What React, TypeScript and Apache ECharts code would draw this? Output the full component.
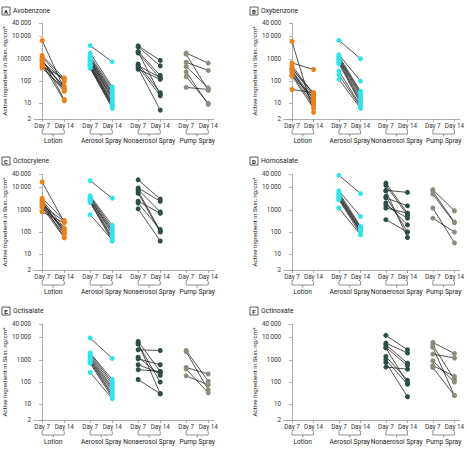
import React, { useEffect, useRef } from "react";
import * as echarts from "echarts";

const groups = ["Lotion", "Aerosol Spray", "Nonaerosol Spray", "Pump Spray"];
const dayLabels = ["Day 7", "Day 14"];
const yTicks = [2, 10, 100, 1000, 10000, 40000];
const groupColors = ["#E8821E", "#36E2EA", "#2E4D4B", "#8C8E7A"];
const panelLetters = ["A", "B", "C", "D", "E", "F"];
const panelNames = ["Avobenzone", "Oxybenzone", "Octocrylene", "Homosalate", "Octisalate", "Octinoxate"];

// Panel A – Avobenzone
const A_lotion7 = [6600, 1400, 1200, 1000, 900, 800, 700, 600, 550, 480, 420, 380];
const A_lotion14 = [45, 130, 95, 15, 40, 50, 110, 13, 60, 35, 140, 45];
const A_aero7 = [3900, 1800, 1300, 1100, 1000, 900, 800, 750, 700, 600, 550, 500, 450, 400, 380];
const A_aero14 = [730, 55, 45, 35, 30, 25, 20, 18, 15, 12, 10, 9, 8, 7, 6];
const A_nonaero7 = [3800, 3400, 2100, 1800, 2000, 580, 500, 450, 380, 340];
const A_nonaero14 = [840, 480, 180, 130, 25, 30, 140, 22, 5, 120];
const A_pump7 = [1800, 1600, 700, 450, 260, 160, 52];
const A_pump14 = [640, 38, 300, 50, 9, 10, 42];

// Panel B – Oxybenzone
const B_lotion7 = [6000, 650, 500, 400, 350, 300, 280, 250, 200, 180, 170, 42];
const B_lotion14 = [4, 330, 25, 20, 30, 15, 10, 12, 8, 18, 6, 30];
const B_aero7 = [6700, 1500, 1300, 1100, 1000, 900, 800, 700, 600, 280, 190, 120];
const B_aero14 = [1000, 100, 35, 30, 25, 20, 15, 12, 10, 8, 7, 6];
const B_nonaero7: number[] = [];
const B_nonaero14: number[] = [];
const B_pump7: number[] = [];
const B_pump14: number[] = [];

// Panel C – Octocrylene
const C_lotion7 = [17500, 3300, 2800, 2400, 2200, 2000, 1800, 1600, 1500, 1400, 1300, 800];
const C_lotion14 = [280, 330, 150, 90, 100, 120, 60, 300, 140, 80, 55, 260];
const C_aero7 = [20000, 4200, 3800, 3400, 3000, 2800, 2500, 2300, 2100, 600];
const C_aero14 = [3300, 200, 150, 120, 100, 80, 60, 50, 40, 45];
const C_nonaero7 = [22000, 9500, 8000, 7000, 5500, 2400, 2000, 1100];
const C_nonaero14 = [3000, 2400, 800, 110, 100, 700, 130, 40];
const C_pump7: number[] = [];
const C_pump14: number[] = [];

// Panel D – Homosalate
const D_lotion7: number[] = [];
const D_lotion14: number[] = [];
const D_aero7 = [35000, 7000, 6000, 5000, 4500, 4000, 3500, 3200, 2800, 1200];
const D_aero14 = [5300, 500, 180, 160, 140, 120, 110, 100, 80, 75];
const D_nonaero7 = [15700, 12400, 7400, 7000, 4000, 3400, 2000, 1600, 1200, 360];
const D_nonaero14 = [700, 570, 6000, 57, 100, 1500, 210, 420, 700, 100];
const D_pump7 = [8000, 6500, 5000, 1200, 420];
const D_pump14 = [900, 280, 260, 33, 100];

// Panel E – Octisalate
const E_lotion7: number[] = [];
const E_lotion14: number[] = [];
const E_aero7 = [9400, 2000, 1800, 1500, 1300, 1100, 1000, 900, 800, 700, 270];
const E_aero14 = [1150, 130, 100, 80, 60, 50, 40, 30, 25, 20, 18];
const E_nonaero7 = [6600, 5600, 5000, 2800, 1300, 1100, 600, 360, 130];
const E_nonaero14 = [300, 30, 100, 2600, 200, 600, 250, 300, 30];
const E_pump7 = [2600, 2300, 450, 380, 190];
const E_pump14 = [110, 45, 230, 33, 75];

// Panel F – Octinoxate
const F_lotion7: number[] = [];
const F_lotion14: number[] = [];
const F_aero7: number[] = [];
const F_aero14: number[] = [];
const F_nonaero7 = [12400, 5600, 4700, 3600, 3400, 1400, 1000, 760, 470];
const F_nonaero14 = [2800, 2000, 700, 550, 90, 120, 80, 22, 380];
const F_pump7 = [6000, 4500, 3600, 1800, 900, 550, 450];
const F_pump14 = [1900, 130, 25, 1200, 100, 180, 25];

const panelData: number[][][][] = [
  [[A_lotion7, A_lotion14], [A_aero7, A_aero14], [A_nonaero7, A_nonaero14], [A_pump7, A_pump14]],
  [[B_lotion7, B_lotion14], [B_aero7, B_aero14], [B_nonaero7, B_nonaero14], [B_pump7, B_pump14]],
  [[C_lotion7, C_lotion14], [C_aero7, C_aero14], [C_nonaero7, C_nonaero14], [C_pump7, C_pump14]],
  [[D_lotion7, D_lotion14], [D_aero7, D_aero14], [D_nonaero7, D_nonaero14], [D_pump7, D_pump14]],
  [[E_lotion7, E_lotion14], [E_aero7, E_aero14], [E_nonaero7, E_nonaero14], [E_pump7, E_pump14]],
  [[F_lotion7, F_lotion14], [F_aero7, F_aero14], [F_nonaero7, F_nonaero14], [F_pump7, F_pump14]],
];

const FONT = 'Roboto, "Liberation Sans", sans-serif';
const DAY_GAP = 0.46;
const colLeft = [34, 284];
const rowTop = [23, 174, 324];
const titleX = [2, 250];
const titleY = [11, 161, 311];
const GRID_W = 180;
const GRID_H = 96;

const xTickVals: number[] = [];
groups.forEach((_, g) => {
  xTickVals.push(g, g + DAY_GAP);
});

function fmtY(v: number): string {
  const r = Math.round(v);
  if (r >= 10000) {
    const s = String(r);
    return s.slice(0, s.length - 3) + "\u2009" + s.slice(s.length - 3);
  }
  return String(r);
}

export default function App() {
  const ref = useRef<HTMLDivElement>(null);
  useEffect(() => {
    if (!ref.current) return;
    const chart = echarts.init(ref.current, undefined, { renderer: "svg" });
    const grids: any[] = [];
    const xAxes: any[] = [];
    const yAxes: any[] = [];
    const series: any[] = [];
    const graphics: any[] = [];

    panelLetters.forEach((letter, p) => {
      const col = p % 2;
      const row = Math.floor(p / 2);
      grids.push({ left: colLeft[col], top: rowTop[row], width: GRID_W, height: GRID_H });
      xAxes.push({
        gridIndex: p,
        type: "value",
        min: -0.17,
        max: 3.58,
        splitLine: { show: false },
        axisLine: { show: true, lineStyle: { color: "#9a9a9a", width: 0.8 } },
        axisTick: { show: true, customValues: xTickVals, length: 3, lineStyle: { color: "#9a9a9a", width: 0.8 } },
        axisLabel: {
          customValues: xTickVals,
          formatter: (v: number) => (Math.abs(v - Math.round(v)) < 0.01 ? dayLabels[0] : dayLabels[1]),
          fontSize: 6.3,
          margin: 4,
          color: "#333",
          fontFamily: FONT,
        },
      });
      yAxes.push({
        gridIndex: p,
        type: "log",
        logBase: 10,
        min: 2,
        max: 40000,
        splitLine: { show: false },
        axisLine: { show: true, lineStyle: { color: "#9a9a9a", width: 0.8 } },
        axisTick: { show: true, customValues: yTicks, length: 3, lineStyle: { color: "#9a9a9a", width: 0.8 } },
        axisLabel: {
          customValues: yTicks,
          formatter: (v: number) => fmtY(v),
          fontSize: 6.3,
          margin: 3,
          color: "#333",
          fontFamily: FONT,
        },
        name: "Active Ingredient in Skin, ng/cm\u00B2",
        nameLocation: "middle",
        nameGap: 24,
        nameRotate: 90,
        nameTextStyle: { fontSize: 6.2, color: "#222", fontFamily: FONT },
      });

      panelData[p].forEach((pair, g) => {
        const [d7, d14] = pair;
        if (!d7.length) return;
        const data: any[] = [];
        d7.forEach((v, k) => {
          data.push([g, v]);
          data.push([g + DAY_GAP, d14[k]]);
          data.push([g, "-"]);
        });
        series.push({
          type: "line",
          xAxisIndex: p,
          yAxisIndex: p,
          data,
          connectNulls: false,
          showSymbol: true,
          symbol: "circle",
          symbolSize: 5,
          itemStyle: { color: groupColors[g], borderWidth: 0 },
          lineStyle: { color: "#1a1a1a", width: 0.75 },
          silent: true,
          emphasis: { disabled: true },
        });
      });

      series.push({
        type: "custom",
        xAxisIndex: p,
        yAxisIndex: p,
        clip: false,
        silent: true,
        data: groups.map((_, g) => [g, 2]),
        renderItem: (params: any, api: any) => {
          const g = api.value(0);
          const p7 = api.coord([g, 2]);
          const p14 = api.coord([g + DAY_GAP, 2]);
          const yb = p7[1];
          const xm = (p7[0] + p14[0]) / 2;
          return {
            type: "group",
            children: [
              {
                type: "polyline",
                shape: { points: [[p7[0], yb + 11], [p7[0], yb + 15], [p14[0], yb + 15], [p14[0], yb + 11]] },
                style: { stroke: "#777", fill: "none", lineWidth: 0.8 },
              },
              {
                type: "line",
                shape: { x1: xm, y1: yb + 15, x2: xm, y2: yb + 17.5 },
                style: { stroke: "#777", lineWidth: 0.8 },
              },
              {
                type: "text",
                style: {
                  text: groups[g],
                  x: xm,
                  y: yb + 21.5,
                  align: "center",
                  verticalAlign: "middle",
                  fontSize: 6.6,
                  fill: "#222",
                  fontFamily: FONT,
                },
              },
            ],
          };
        },
      });

      graphics.push({
        type: "rect",
        shape: { x: titleX[col], y: titleY[row] - 4, width: 8, height: 8 },
        style: { fill: "#fff", stroke: "#333", lineWidth: 0.8 },
      });
      graphics.push({
        type: "text",
        x: titleX[col] + 4,
        y: titleY[row],
        style: {
          text: letter,
          align: "center",
          verticalAlign: "middle",
          fontSize: 6,
          fontWeight: "bold",
          fill: "#222",
          fontFamily: FONT,
        },
      });
      graphics.push({
        type: "text",
        x: titleX[col] + 11,
        y: titleY[row],
        style: {
          text: panelNames[p],
          align: "left",
          verticalAlign: "middle",
          fontSize: 6.8,
          fill: "#222",
          fontFamily: FONT,
        },
      });
    });

    chart.setOption({
      animation: false,
      backgroundColor: "#ffffff",
      grid: grids,
      xAxis: xAxes,
      yAxis: yAxes,
      series,
      graphic: graphics,
    });
    return () => chart.dispose();
  }, []);
  return <div ref={ref} style={{ position: "fixed", left: 0, top: 0, width: 467, height: 449 }} />;
}
